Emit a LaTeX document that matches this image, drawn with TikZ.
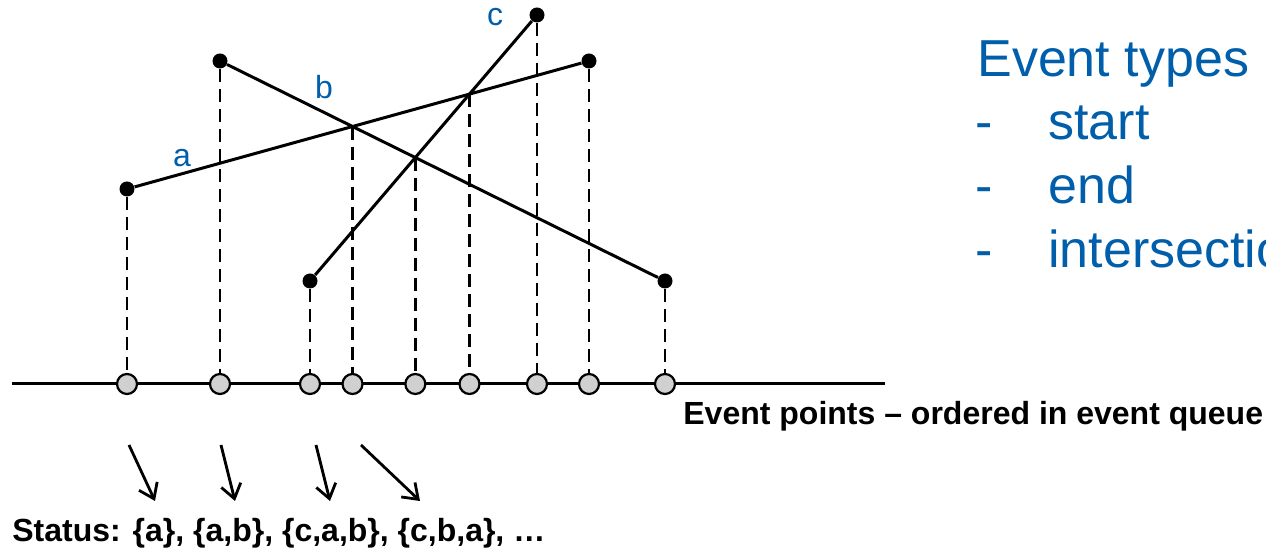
\documentclass[tikz,border=0pt]{standalone}
\usepackage{fontspec}
\setmainfont{Liberation Sans}
\usetikzlibrary{positioning, calc, arrows.meta, intersections}

\definecolor{labelblue}{RGB}{0,94,170}
\definecolor{evgray}{RGB}{208,208,208}

\tikzset{
    seg/.style={line width=1.5pt},
    endpt/.style={circle, fill=black, inner sep=0pt, minimum size=7.5pt},
    evpt/.style={circle, draw=black, line width=1.1pt, fill=evgray, inner sep=0pt, minimum size=10pt},
    proj/.style={line width=1.4pt, dash pattern=on 6.5pt off 3.5pt},
    seglabel/.style={text=labelblue, font=\fontsize{16}{18}\selectfont, anchor=base, inner sep=0pt},
    statusarrow/.style={line width=1.4pt, -{Straight Barb[length=7pt, width=10pt]}},
}

\begin{document}
\begin{tikzpicture}[x=0.5pt, y=-0.5pt]
    \useasboundingbox (0,0) rectangle (1266,555);

    % Segment end points
    \node[endpt] (aL) at (127,189) {};
    \node[endpt] (aR) at (589,61) {};
    \node[endpt] (bL) at (220,61) {};
    \node[endpt] (bR) at (665,281) {};
    \node[endpt] (cL) at (310,281) {};
    \node[endpt] (cR) at (537,15) {};

    % Segments
    \path[name path=sa] (aL.center) -- (aR.center);
    \path[name path=sb] (bL.center) -- (bR.center);
    \path[name path=sc] (cL.center) -- (cR.center);
    \path[name intersections={of=sa and sb, by=ab}];
    \path[name intersections={of=sb and sc, by=bc}];
    \path[name intersections={of=sa and sc, by=ac}];

    % Event line
    \coordinate (axisL) at (12,384);
    \coordinate (axisR) at (885,384);
    \draw[line width=1.5pt] (axisL) -- (axisR);

    \node[evpt] (e1) at (aL |- axisL) {};
    \node[evpt] (e2) at (bL |- axisL) {};
    \node[evpt] (e3) at (cL |- axisL) {};
    \node[evpt] (e4) at (ab |- axisL) {};
    \node[evpt] (e5) at (bc |- axisL) {};
    \node[evpt] (e6) at (ac |- axisL) {};
    \node[evpt] (e7) at (cR |- axisL) {};
    \node[evpt] (e8) at (aR |- axisL) {};
    \node[evpt] (e9) at (bR |- axisL) {};

    % Projections
    \draw[proj] (aL) -- (e1);
    \draw[proj] (bL) -- (e2);
    \draw[proj] (cL) -- (e3);
    \draw[proj] (ab) -- (e4);
    \draw[proj] (bc) -- (e5);
    \draw[proj] (ac) -- (e6);
    \draw[proj] (cR) -- (e7);
    \draw[proj] (aR) -- (e8);
    \draw[proj] (bR) -- (e9);

    \draw[seg] (aL) -- (aR);
    \draw[seg] (bL) -- (bR);
    \draw[seg] (cL) -- (cR);

    \node[seglabel] (la) at (182,167) {a};
    \node[seglabel] (lb) at (324,99) {b};
    \node[seglabel] (lc) at (495,26) {c};

    % Event types
    \node[anchor=base west, inner sep=0pt, text=labelblue, font=\fontsize{26}{30}\selectfont] (types) at (977,77) {Event types};
    \foreach \name/\txt/\yy in {ts/start/140, te/end/204, ti/intersection/268} {
        \node[anchor=base west, inner sep=0pt, text=labelblue, font=\fontsize{26}{30}\selectfont] (\name d) at (975,\yy) {-};
        \node[anchor=base west, inner sep=0pt, text=labelblue, font=\fontsize{26}{30}\selectfont] (\name) at (1048,\yy) {\txt};
    }

    \node[anchor=base west, inner sep=0pt, font=\bfseries\fontsize{16}{18}\selectfont] (queue) at (683,425) {Event points -- ordered in event queue};

    % Status
    \node[anchor=base west, inner sep=0pt, font=\bfseries\fontsize{16}{18}\selectfont] (status) at (12,542) {Status: \{a\}, \{a,b\}, \{c,a,b\}, \{c,b,a\}, \dots};

    \coordinate (s1) at (129,445);
    \coordinate (t1) at (155,501);
    \coordinate (s2) at (221,445);
    \coordinate (t2) at (235,501);
    \coordinate (s3) at (316,445);
    \coordinate (t3) at (330,501);
    \coordinate (s4) at (361,445);
    \coordinate (t4) at (420,501);
    \draw[statusarrow] (s1) -- (t1);
    \draw[statusarrow] (s2) -- (t2);
    \draw[statusarrow] (s3) -- (t3);
    \draw[statusarrow] (s4) -- (t4);

\end{tikzpicture}
\end{document}
